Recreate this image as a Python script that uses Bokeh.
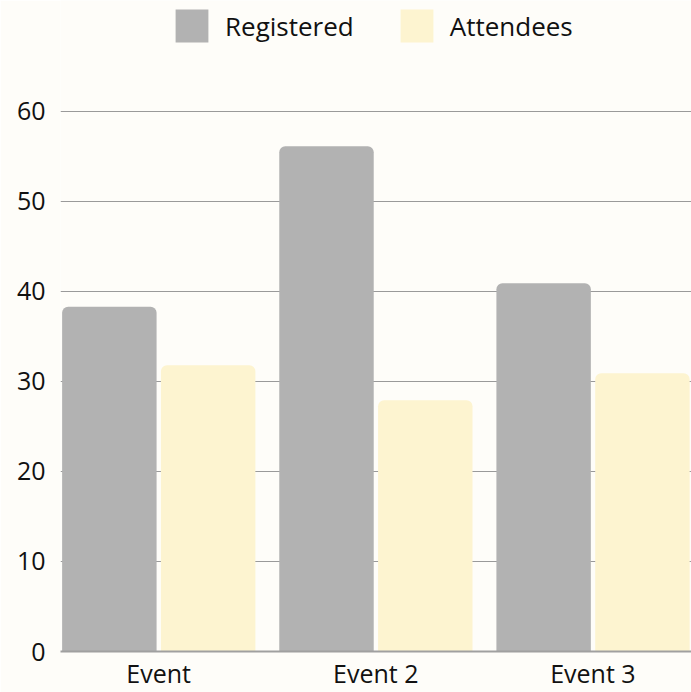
from bokeh.plotting import figure
from bokeh.models import ColumnDataSource, Range1d, FixedTicker, Legend, LegendItem
from bokeh.transform import dodge
from bokeh.embed import file_html
from bokeh.resources import INLINE

categories = ["Event", "Event 2", "Event 3"]
registered = [38.3, 56.1, 40.9]
attendees = [31.8, 27.9, 30.9]
y_ticks = [0, 10, 20, 30, 40, 50, 60]
series_names = ["Registered", "Attendees"]

BG = "#fefdf9"
GRAY = "#b2b2b2"
YELLOW = "#fdf4d0"
FONT = "Open Sans"

pos = list(range(len(categories)))
src = ColumnDataSource(dict(x=pos, reg=registered, att=attendees))

p = figure(width=691, height=692, output_backend="svg", toolbar_location=None,
           x_range=Range1d(-0.452, 2.454), y_range=Range1d(0, 72.3),
           min_border_left=60, min_border_right=0, min_border_top=0,
           min_border_bottom=40)
p.background_fill_color = BG
p.border_fill_color = BG
p.outline_line_color = None

r1 = p.vbar(x=dodge("x", -0.227, range=p.x_range), top="reg", width=0.435,
            source=src, fill_color=GRAY, line_color=None, border_radius=(6, 6, 0, 0))
r2 = p.vbar(x=dodge("x", 0.228, range=p.x_range), top="att", width=0.435,
            source=src, fill_color=YELLOW, line_color=None, border_radius=(6, 6, 0, 0))

# axes
p.xaxis.ticker = FixedTicker(ticks=pos)
p.xaxis.major_label_overrides = {i: c for i, c in enumerate(categories)}
p.xaxis.major_tick_line_color = None
p.xaxis.major_tick_out = 0
p.xaxis.major_tick_in = 0
p.xaxis.minor_tick_line_color = None
p.xaxis.minor_tick_out = 0
p.xaxis.axis_line_color = "#a0a0a0"
p.xaxis.axis_line_width = 2
p.xaxis.major_label_text_font = FONT
p.xaxis.major_label_text_font_size = "25px"
p.xaxis.major_label_text_color = "#111111"
p.xaxis.major_label_standoff = 4

p.yaxis.ticker = FixedTicker(ticks=y_ticks)
p.yaxis.major_tick_line_color = None
p.yaxis.major_tick_out = 0
p.yaxis.major_tick_in = 0
p.yaxis.minor_tick_line_color = None
p.yaxis.minor_tick_out = 0
p.yaxis.axis_line_color = None
p.yaxis.major_label_text_font = FONT
p.yaxis.major_label_text_font_size = "25px"
p.yaxis.major_label_text_color = "#111111"
p.yaxis.major_label_standoff = 15

p.xgrid.grid_line_color = None
p.ygrid.ticker = FixedTicker(ticks=y_ticks)
p.ygrid.grid_line_color = "#9a9a9a"
p.ygrid.grid_line_width = 1

legend = Legend(items=[LegendItem(label=series_names[0], renderers=[r1]),
                       LegendItem(label=series_names[1], renderers=[r2])],
                orientation="horizontal", location=(111, 605),
                glyph_width=41, glyph_height=41, label_standoff=13, spacing=42,
                margin=0, padding=7,
                label_text_font=FONT, label_text_font_size="26px",
                label_text_color="#111111",
                background_fill_alpha=0, border_line_color=None)
p.add_layout(legend)

open("out.html", "w").write(file_html(p, INLINE))
